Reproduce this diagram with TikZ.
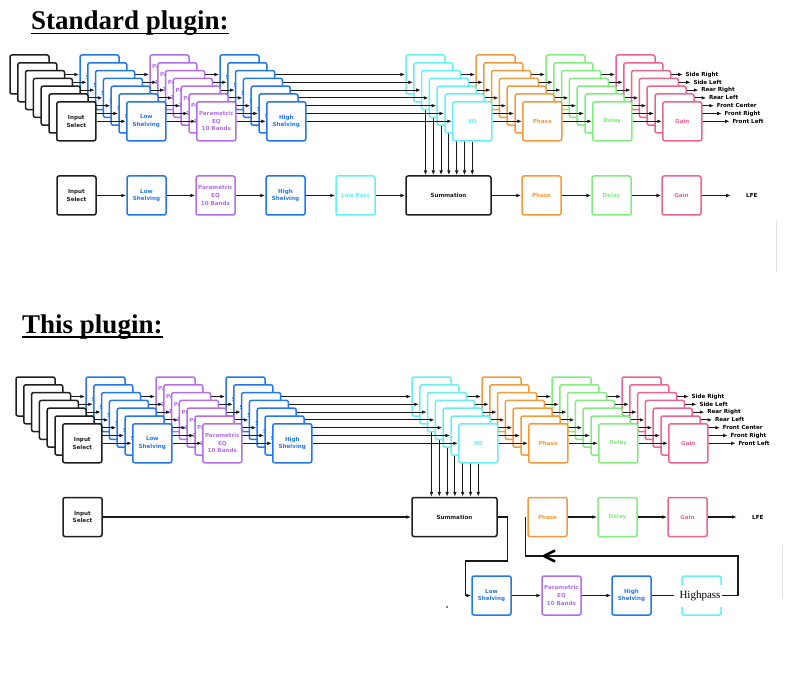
\documentclass[tikz,border=0pt]{standalone}
\usepackage{fontspec}
\setmainfont{Liberation Serif}
\setsansfont{DejaVu Sans}
\usetikzlibrary{arrows.meta}

\definecolor{boxblack}{HTML}{1E1E1E}
\definecolor{boxblue}{HTML}{2277EE}
\definecolor{boxpurple}{HTML}{B36EF0}
\definecolor{boxcyan}{HTML}{66F0F2}
\definecolor{boxorange}{HTML}{F59A3C}
\definecolor{boxgreen}{HTML}{82EC7E}
\definecolor{boxpink}{HTML}{F0648C}

\newcommand\blkfont{\fontsize{5.6}{7.6}\selectfont\sffamily\bfseries}
\newcommand\ttlfont{\fontsize{27}{30}\selectfont\rmfamily\bfseries}

\begin{document}
\begin{tikzpicture}[x=1pt, y=-1pt, >={Latex[length=4.8pt,width=3.6pt]},
  blk/.style={draw=#1, text=#1, fill=white, line width=1.5pt, rounded corners=2pt,
    minimum width=39pt, minimum height=39pt, inner sep=0pt, align=center, font=\blkfont},
  sig/.style={line width=1.1pt, draw=black!90},
  outlbl/.style={anchor=west, inner xsep=2.5pt, inner ysep=0pt, font=\blkfont}]

        % page size of the reference
        \useasboundingbox (0,0) rectangle (787,679);

        % titles
        \node[anchor=base west, inner sep=0pt, font=\ttlfont] (ttl-a) at (31,30) {Standard plugin:};
        \draw[line width=1.8pt] ([yshift=-3.5pt]ttl-a.base west) -- ([yshift=-3.5pt]ttl-a.base east);
        \node[anchor=base west, inner sep=0pt, font=\ttlfont] (ttl-b) at (22,333) {This plugin:};
        \draw[line width=1.8pt] ([yshift=-4pt]ttl-b.base west) -- ([yshift=-4pt]ttl-b.base east);

	% LFE row, standard plugin
	\foreach \st/\X/\col/\txt in {in/57/boxblack/{Input\\Select}, ls/127/boxblue/{Low\\Shelving},
	    eq/196/boxpurple/{Parametric\\EQ\\10 Bands}, hs/266/boxblue/{High\\Shelving}, lp/336/boxcyan/{Low Pass},
	    ph/522/boxorange/Phase, dl/592/boxgreen/Delay, gn/662/boxpink/Gain}
		\node[blk=\col] (a-l\st) at (\X+19.5,195.5) {\txt};
	\node[blk=boxblack, minimum width=85pt] (a-sum) at (448.5,195.5) {Summation};
	\node[outlbl, inner xsep=0pt] (a-lfe) at (746,195.5) {LFE};
	\foreach \from/\to in {lin/lls, lls/leq, leq/lhs, lhs/llp, llp/sum, sum/lph, lph/ldl, ldl/lgn}
		\draw[sig, ->] (a-\from) -- (a-\to);
	\draw[sig, ->] (a-lgn) -- ([xshift=-15pt]a-lfe.west);

	% LFE row, this plugin
	\node[blk=boxblack] (b-lin) at (82.5,517) {Input\\Select};
	\node[blk=boxblack, minimum width=85pt] (b-sum) at (454.5,517) {Summation};
	\foreach \st/\X/\col/\txt in {ph/528/boxorange/Phase, dl/598/boxgreen/Delay, gn/668/boxpink/Gain}
		\node[blk=\col] (b-l\st) at (\X+19.5,517) {\txt};
	\node[outlbl, inner xsep=0pt] (b-lfe) at (752,517) {LFE};
	\draw[sig, ->] (b-lin) -- (b-sum);
	\foreach \from/\to in {lph/ldl, ldl/lgn}
		\draw[sig, ->] (b-\from) -- (b-\to);
	\draw[sig, ->] (b-lgn) -- ([xshift=-15pt]b-lfe.west);

	% LFE branch through the filters, this plugin
	\foreach \st/\X/\col/\txt in {ls/472/boxblue/{Low\\Shelving}, eq/542/boxpurple/{Parametric\\EQ\\10 Bands},
	    hs/612/boxblue/{High\\Shelving}, hp/682/boxcyan/{}}
		\node[blk=\col] (b-b\st) at (\X+19.5,595.5) {\txt};
	\draw[sig, ->] (b-sum.east) -- ++(10,0) |- ++(-42,44) |- (b-bls.west);
	\foreach \from/\to in {bls/beq, beq/bhs}
		\draw[sig, ->] (b-\from) -- (b-\to);
	\draw[sig] (b-bhs) -- (b-bhp);
	\node[fill=white, inner xsep=5.5pt, inner ysep=6pt, font=\fontsize{11}{13}\selectfont\rmfamily] (b-hptxt)
		at ([xshift=-1.5pt]b-bhp) {Highpass};
	\coordinate (b-ret) at (738,556);
	\draw[sig] (b-bhp.east) -| (b-ret) -| ([xshift=-2pt]b-lph.west);
	\draw[line width=2.6pt, line join=round] (555,550.5) -- (544,556) -- (555,561.5);
	\fill (447,607) circle (0.8);

	% the seven channel stacks, back layer first
	\foreach \s/\dx/\dy in {a/0/0, b/6/322}
	\foreach \k/\nm in {0/Side Right, 1/Side Left, 2/Rear Right, 3/Rear Left, 4/Front Center, 5/Front Right, 6/Front Left} {
		\foreach \st/\X/\col/\txt in {in/10/boxblack/{Input\\Select}, ls/80/boxblue/{Low\\Shelving},
		    eq/150/boxpurple/{Parametric\\EQ\\10 Bands}, hs/220/boxblue/{High\\Shelving}, xo/406/boxcyan/XO,
		    ph/476/boxorange/Phase, dl/546/boxgreen/Delay, gn/616/boxpink/Gain}
			\node[blk=\col] (\s-\st-\k) at (\X+19.5+7.8*\k+\dx, 74.5+7.8*\k+\dy) {\txt};
		\foreach \from/\to in {in/ls, ls/eq, eq/hs, hs/xo, xo/ph, ph/dl, dl/gn}
			\draw[sig, ->] (\s-\from-\k) -- (\s-\to-\k);
		\draw[sig, ->] (\s-xo-\k.south) -- (\s-xo-\k.south |- \s-sum.north);
		\node[outlbl] (\s-out-\k) at (683+7.8*\k+\dx, 74.5+7.8*\k+\dy) {\nm};
		\draw[sig, ->] (\s-gn-\k) -- (\s-out-\k.west);
	}

	% faint marks at the right edge
	\draw[black!12, line width=0.8pt] (776,221) -- (776,272);
	\draw[black!12, line width=0.8pt] (782,545) -- (782,598);

\end{tikzpicture}
\end{document}
